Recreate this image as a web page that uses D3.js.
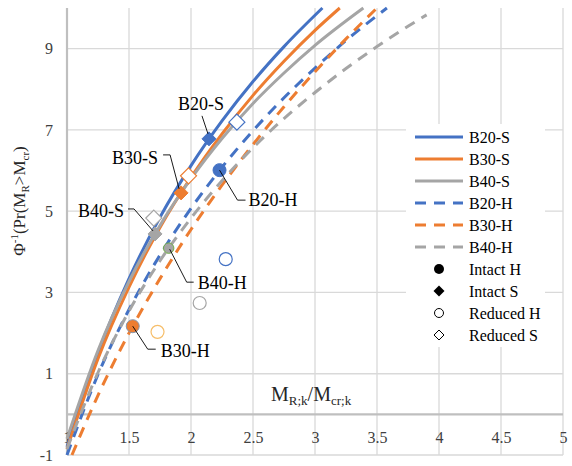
<!DOCTYPE html>
<html>
<head>
<meta charset="utf-8">
<script src="https://cdn.jsdelivr.net/npm/d3@7"></script>
<style>
  body { margin: 0; background: #fff; }
  svg, svg text { font-family: "Liberation Serif", "Times New Roman", serif; }
</style>
</head>
<body>
<div id="chart"></div>
<script>
// values
const xTicks = [1, 1.5, 2, 2.5, 3, 3.5, 4, 4.5, 5]
const yTicks = [-1, 1, 3, 5, 7, 9]

const b20S = [[1, -0.8], [1.25, 1.51], [1.5, 3.34], [1.75, 4.85], [2, 6.12], [2.25, 7.22], [2.5, 8.19], [2.75, 9.05], [3.06, 10]]
const b30S = [[1, -0.85], [1.25, 1.37], [1.5, 3.13], [1.75, 4.6], [2, 5.83], [2.25, 6.9], [2.5, 7.85], [2.75, 8.69], [3, 9.45], [3.2, 10]]
const b40S = [[1, -0.6], [1.25, 1.57], [1.5, 3.27], [1.75, 4.65], [2, 5.8], [2.25, 6.79], [2.5, 7.65], [2.75, 8.4], [3, 9.08], [3.39, 10]]
const b20H = [[1, -1], [1.25, 0.98], [1.5, 2.58], [1.75, 3.92], [2, 5.07], [2.25, 6.08], [2.5, 6.98], [2.75, 7.79], [3, 8.52], [3.25, 9.2], [3.58, 10]]
const b30H = [[1.04, -1], [1.25, 0.47], [1.5, 2], [1.75, 3.34], [2, 4.55], [2.25, 5.64], [2.5, 6.64], [2.75, 7.57], [3, 8.43], [3.25, 9.24], [3.5, 10]]
const b40H = [[1, -0.85], [1.25, 1.03], [1.5, 2.54], [1.75, 3.78], [2, 4.83], [2.25, 5.75], [2.5, 6.56], [2.75, 7.28], [3, 7.92], [3.25, 8.51], [3.5, 9.05], [3.75, 9.55], [3.9, 9.83]]

const seriesNames = ["B20-S", "B30-S", "B40-S", "B20-H", "B30-H", "B40-H"]
const seriesData = [b20S, b30S, b40S, b20H, b30H, b40H]

// intact (filled) and reduced (hollow) points
const intactS = [["B20-S", 2.145, 6.78], ["B30-S", 1.92, 5.45], ["B40-S", 1.71, 4.44]]
const intactH = [["B20-H", 2.23, 6.01], ["B30-H", 1.53, 2.17], ["B40-H", 1.82, 4.09]]
const reducedS = [["B20-S", 2.37, 7.19], ["B30-S", 1.98, 5.87], ["B40-S", 1.70, 4.83]]
const reducedH = [["B20-H", 2.28, 3.82], ["B30-H", 1.73, 2.03], ["B40-H", 2.07, 2.74]]

const legendMarkers = ["Intact H", "Intact S", "Reduced H", "Reduced S"]

const W = 572, H = 466
const serif = "'Liberation Serif', 'Times New Roman', serif"
const blue = "#4472C4", orange = "#ED7D31", gray = "#A5A5A5"
const color = {"B20-S": blue, "B30-S": orange, "B40-S": gray, "B20-H": blue, "B30-H": orange, "B40-H": gray}
const reducedHColor = {"B20-H": blue, "B30-H": "#F6BE6A", "B40-H": gray}

const svg = d3.select("#chart").append("svg").attr("width", W).attr("height", H)

const x = d3.scaleLinear().domain([1, 5]).range([67, 563])
const y = d3.scaleLinear().domain([-1, 10]).range([455, 8])

// grid
svg.append("g").selectAll("line").data(xTicks).join("line")
  .attr("x1", d => x(d)).attr("x2", d => x(d)).attr("y1", y(10)).attr("y2", y(-1))
  .attr("stroke", "#D9D9D9").attr("stroke-width", 1.3)
svg.append("g").selectAll("line").data(yTicks).join("line")
  .attr("x1", x(1)).attr("x2", x(5)).attr("y1", d => y(d)).attr("y2", d => y(d))
  .attr("stroke", "#D9D9D9").attr("stroke-width", 1.3)

// axis lines
svg.append("line").attr("x1", x(1)).attr("x2", x(1)).attr("y1", y(10)).attr("y2", y(-1))
  .attr("stroke", "#BFBFBF").attr("stroke-width", 2.2)
svg.append("line").attr("x1", x(1)).attr("x2", x(5)).attr("y1", y(0)).attr("y2", y(0))
  .attr("stroke", "#BFBFBF").attr("stroke-width", 2.2)

// tick labels
const xAxis = svg.append("g").attr("transform", `translate(0,${y(0)})`)
  .call(d3.axisBottom(x).tickValues(xTicks).tickSize(0).tickPadding(17).tickFormat(d => String(d)))
const yAxis = svg.append("g").attr("transform", `translate(${x(1)},0)`)
  .call(d3.axisLeft(y).tickValues(yTicks).tickSize(0).tickPadding(14).tickFormat(d => String(d)))
;[xAxis, yAxis].forEach(a => {
  a.attr("font-family", null).attr("font-size", null)
  a.select(".domain").remove()
  a.selectAll("text").style("font-family", serif).style("font-size", "16px").attr("fill", "#404040")
})

// axis titles
const yTitle = svg.append("text").attr("transform", "translate(25,201) rotate(-90)")
  .attr("text-anchor", "middle").style("font-size", "17px").attr("fill", "#262626")
yTitle.append("tspan").text("Φ")
yTitle.append("tspan").style("font-size", "11px").attr("dy", -7).text("-1")
yTitle.append("tspan").attr("dy", 7).text("(Pr(M")
yTitle.append("tspan").style("font-size", "11px").attr("dy", 4).text("R")
yTitle.append("tspan").attr("dy", -4).text(">M")
yTitle.append("tspan").style("font-size", "11px").attr("dy", 4).text("cr")
yTitle.append("tspan").attr("dy", -4).text(")")

const xTitle = svg.append("text").attr("x", 271).attr("y", 401).style("font-size", "20px").attr("fill", "#262626")
xTitle.append("tspan").text("M")
xTitle.append("tspan").style("font-size", "13px").attr("dy", 4).text("R;k")
xTitle.append("tspan").attr("dy", -4).text("/M")
xTitle.append("tspan").style("font-size", "13px").attr("dy", 4).text("cr;k")

// curves
const line = d3.line().x(d => x(d[0])).y(d => y(d[1])).curve(d3.curveMonotoneX)
svg.append("g").selectAll("path").data(seriesData).join("path")
  .attr("d", line)
  .attr("fill", "none")
  .attr("stroke", (d, i) => color[seriesNames[i]])
  .attr("stroke-width", 3)
  .attr("stroke-dasharray", (d, i) => i >= 3 ? "11,8" : null)

// markers
const diamond = s => `M0,${-s}L${s},0L0,${s}L${-s},0Z`
const mk = svg.append("g")
mk.selectAll(".rs").data(reducedS).join("path")
  .attr("transform", d => `translate(${x(d[1])},${y(d[2])})`).attr("d", diamond(8))
  .attr("fill", "#fff").attr("stroke", d => color[d[0]]).attr("stroke-width", 1.2)
mk.selectAll(".rh").data(reducedH).join("circle")
  .attr("cx", d => x(d[1])).attr("cy", d => y(d[2])).attr("r", 6.5)
  .attr("fill", "#fff").attr("stroke", d => reducedHColor[d[0]]).attr("stroke-width", 1.2)
mk.selectAll(".is").data(intactS).join("path")
  .attr("transform", d => `translate(${x(d[1])},${y(d[2])})`).attr("d", diamond(7))
  .attr("fill", d => color[d[0]]).attr("stroke", d => color[d[0]])
const hStroke = {"B20-H": blue, "B30-H": "#8497B0", "B40-H": "#70AD47"}
const hR = {"B20-H": 6.5, "B30-H": 6.5, "B40-H": 5.2}
mk.selectAll(".ih").data(intactH).join("circle")
  .attr("cx", d => x(d[1])).attr("cy", d => y(d[2])).attr("r", d => hR[d[0]])
  .attr("fill", d => color[d[0]]).attr("stroke", d => hStroke[d[0]]).attr("stroke-width", 1)

// data labels with leader lines (offsets in px from the marker)
const callouts = {
  "B20-S": {lead: [[-7, -23], [-1, -5]], tx: 15, ty: -29, anchor: "end"},
  "B30-S": {lead: [[-18, -38], [-11, -38], [-2, -4]], tx: -23, ty: -29, anchor: "end"},
  "B40-S": {lead: [[-27, -25], [-21, -25], [-2, -3]], tx: -31, ty: -17, anchor: "end"},
  "B20-H": {lead: [[0, 0], [18, 30], [26, 30]], tx: 29, ty: 36, anchor: "start"},
  "B40-H": {lead: [[1, 1], [18, 34], [25, 34]], tx: 29, ty: 41, anchor: "start"},
  "B30-H": {lead: [[0, 0], [15, 23], [23, 23]], tx: 28, ty: 31, anchor: "start"}
}
const labels = svg.append("g")
intactS.concat(intactH).forEach(d => {
  const c = callouts[d[0]], px = x(d[1]), py = y(d[2])
  labels.append("polyline")
    .attr("points", c.lead.map(p => [px + p[0], py + p[1]].join(",")).join(" "))
    .attr("fill", "none").attr("stroke", "#000").attr("stroke-width", 0.9)
  labels.append("text").attr("x", px + c.tx).attr("y", py + c.ty)
    .attr("text-anchor", c.anchor).style("font-size", "18px").attr("fill", "#000").text(d[0])
})

// legend
const lg = svg.append("g")
lg.append("rect").attr("x", 406).attr("y", 124).attr("width", 139).attr("height", 223).attr("fill", "#fff")
const rowY = i => 137 + i * 22
seriesNames.forEach((n, i) => {
  lg.append("line").attr("x1", 415).attr("x2", 463).attr("y1", rowY(i)).attr("y2", rowY(i))
    .attr("stroke", color[n]).attr("stroke-width", 3).attr("stroke-dasharray", i >= 3 ? "11,8" : null)
  lg.append("text").attr("x", 469).attr("y", rowY(i) + 5.5).style("font-size", "16px").attr("fill", "#000").text(n)
})
legendMarkers.forEach((n, j) => {
  const i = j + 6, cx = 439, cy = rowY(i)
  if (j === 0) lg.append("circle").attr("cx", cx).attr("cy", cy).attr("r", 5).attr("fill", "#000")
  if (j === 1) lg.append("path").attr("transform", `translate(${cx},${cy})`).attr("d", diamond(5.5)).attr("fill", "#000")
  if (j === 2) lg.append("circle").attr("cx", cx).attr("cy", cy).attr("r", 4.5).attr("fill", "#fff").attr("stroke", "#000")
  if (j === 3) lg.append("path").attr("transform", `translate(${cx},${cy})`).attr("d", diamond(5)).attr("fill", "#fff").attr("stroke", "#000")
  lg.append("text").attr("x", 469).attr("y", cy + 5.5).style("font-size", "16px").attr("fill", "#000").text(n)
})
</script>
</body>
</html>
